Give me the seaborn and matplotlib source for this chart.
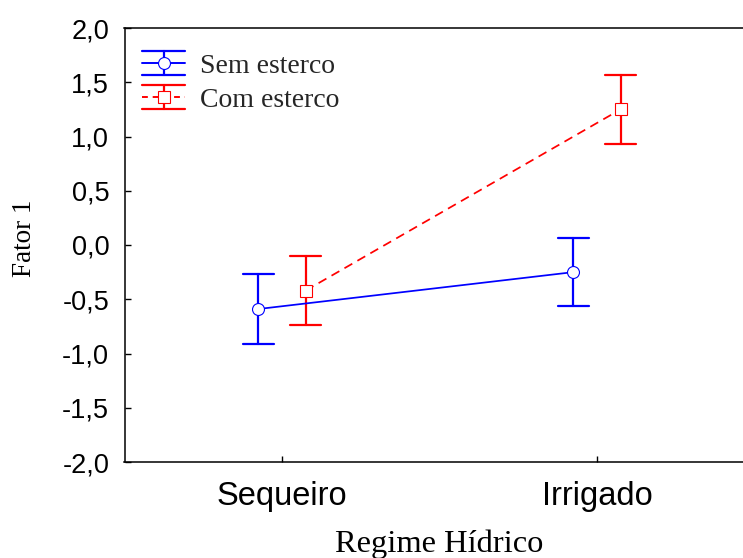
import numpy as np
import pandas as pd
import matplotlib
matplotlib.use("Agg")
import matplotlib.pyplot as plt
from matplotlib.lines import Line2D
from matplotlib.legend_handler import HandlerBase
import seaborn as sns

# Means and half-widths of the confidence intervals for each water regime
regimes = ["Sequeiro", "Irrigado"]
groups = ["Sem esterco", "Com esterco"]
sem_mean = [-0.59, -0.25]
sem_err = [0.32, 0.31]
com_mean = [-0.42, 1.25]
com_err = [0.32, 0.32]

y_ticks = [-2.0, -1.5, -1.0, -0.5, 0.0, 0.5, 1.0, 1.5, 2.0]
y_tick_labels = ["-2,0", "-1,5", "-1,0", "-0,5", "0,0", "0,5", "1,0", "1,5", "2,0"]

colors = {"Sem esterco": "#0000ff", "Com esterco": "#ff0000"}

# Each group is stored as its lower and upper interval limit: the mean of the
# pair is the point estimate and the 0-100 percentile range is the interval.
rows = []
for grp, means, errs in [("Sem esterco", sem_mean, sem_err),
                         ("Com esterco", com_mean, com_err)]:
    for reg, m, e in zip(regimes, means, errs):
        rows.append({"Regime": reg, "Grupo": grp, "Fator": m - e})
        rows.append({"Regime": reg, "Grupo": grp, "Fator": m + e})
df = pd.DataFrame(rows)

sns.set_style("ticks")
plt.rcParams["font.family"] = ["Liberation Sans", "DejaVu Sans"]
plt.rcParams["xtick.direction"] = "in"
plt.rcParams["ytick.direction"] = "in"

fig = plt.figure(figsize=(7.43, 5.58), dpi=100)
W, H = 743.0, 558.0
ax = fig.add_axes([124.5 / W, (H - 462) / H, 630 / W, 434 / H])

dash = (0, (5.2, 3.4))

sns.pointplot(
    data=df, x="Regime", y="Fator", hue="Grupo",
    order=regimes, hue_order=groups, palette=colors,
    estimator="mean", errorbar=("pi", 100),
    dodge=0.15, capsize=0.1,
    markers=["o", "s"], linestyles=["-", dash],
    linewidth=1.25, markersize=8.6, markeredgewidth=0.8,
    markerfacecolor="white", zorder=3,
    err_kws={"linewidth": 1.6, "zorder": 2},
    legend=False, ax=ax,
)

ax.set_xlim(-0.5, 1.5)
ax.set_ylim(-2.0, 2.0)
ax.set_yticks(y_ticks)
ax.set_yticklabels(y_tick_labels)

for sp in ax.spines.values():
    sp.set_color("black")
    sp.set_linewidth(1.1)

ax.tick_params(axis="y", direction="in", length=4.5, width=1.0,
               labelsize=19.5, pad=11, colors="black")
ax.tick_params(axis="x", direction="in", length=4, width=1.0,
               labelsize=23.5, pad=14, colors="black")

serif = ["Liberation Serif", "DejaVu Serif"]
ax.set_xlabel("Regime Hídrico", fontsize=23.4, family=serif, color="black")
ax.set_ylabel("Fator 1", fontsize=19.5, family=serif, color="black")
ax.xaxis.set_label_coords(0.5, -0.156)
ax.yaxis.set_label_coords(-0.139, 0.515)


class ErrorbarKey(HandlerBase):
    """Legend key showing a point with its error bar and connecting line."""

    def __init__(self, color, ls, marker):
        super().__init__()
        self.color, self.ls, self.marker = color, ls, marker

    def create_artists(self, legend, orig_handle, xdescent, ydescent,
                       width, height, fontsize, trans):
        cy = height / 2 - ydescent
        x0, x1 = -xdescent, -xdescent + width
        xm = (x0 + x1) / 2
        d = 8.6
        c = self.color
        arts = [
            Line2D([x0, x1], [cy + d, cy + d], color=c, lw=1.6),
            Line2D([x0, x1], [cy - d, cy - d], color=c, lw=1.6),
            Line2D([xm, xm], [cy - d, cy + d], color=c, lw=1.6),
            Line2D([x0, x1], [cy, cy], color=c, lw=1.4, ls=self.ls),
            Line2D([xm], [cy], marker=self.marker, ms=8.6, mew=0.8,
                   mfc="white", mec=c, ls="none"),
        ]
        for a in arts:
            a.set_transform(trans)
        return arts


keys = [Line2D([], []), Line2D([], [])]
ax.legend(
    keys, groups, loc="upper left", bbox_to_anchor=(0.0278, 0.948),
    frameon=False, borderpad=0, borderaxespad=0,
    handlelength=1.55, handleheight=1.0, handletextpad=0.54,
    labelspacing=0.22,
    prop={"family": serif, "size": 20},
    handler_map={keys[0]: ErrorbarKey(colors["Sem esterco"], "-", "o"),
                 keys[1]: ErrorbarKey(colors["Com esterco"], (0, (3, 2.5)), "s")},
)

fig.savefig("out.png", dpi=100)
